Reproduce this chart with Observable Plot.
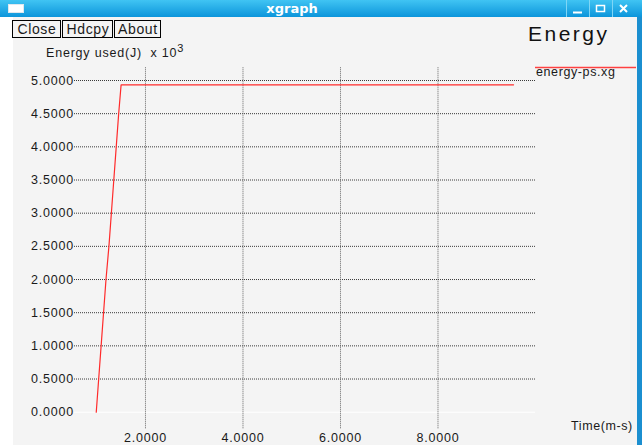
<!DOCTYPE html>
<html><head><meta charset="utf-8">
<script src="https://cdn.jsdelivr.net/npm/d3@7"></script>
<script src="https://cdn.jsdelivr.net/npm/@observablehq/plot@0.6"></script>
<style>
html,body{margin:0;padding:0;background:#fff;}
#win{position:relative;width:642px;height:445px;overflow:hidden;background:#fff;font-family:"Liberation Sans",Arial,sans-serif;}
#titlebar{position:absolute;left:0;top:0;width:642px;height:17px;background:linear-gradient(#40c4f3,#0c95db);}
#content{position:absolute;left:13px;top:17px;width:624px;height:428px;background:#f4f4f4;}
#rborder{position:absolute;left:637px;top:17px;width:5px;height:428px;background:#1b8fd0;}
#plot{position:absolute;left:0;top:0;}
#chrome{position:absolute;left:0;top:0;}
#chrome text{white-space:pre;}
</style>
</head><body>
<div id="win">
  <div id="titlebar"></div>
  <div id="content"></div>
  <div id="rborder"></div>
  <div id="plot"></div>
  <svg id="chrome" width="642" height="445" xmlns="http://www.w3.org/2000/svg"></svg>
</div>
<script>
// ---- data ----
const timeMs   = [0.99, 1.04, 1.09, 1.14, 1.19, 1.25, 1.30, 1.35, 1.40, 1.45, 1.50, 9.55];
const energyKJ = [0.00, 0.50, 1.00, 1.50, 2.00, 2.50, 3.00, 3.50, 4.00, 4.50, 4.935, 4.935];
const seriesName = "energy-ps.xg";
const yTickValues = [0, 0.5, 1.0, 1.5, 2.0, 2.5, 3.0, 3.5, 4.0, 4.5, 5.0];
const yTickLabels = ["0.0000","0.5000","1.0000","1.5000","2.0000","2.5000","3.0000","3.5000","4.0000","4.5000","5.0000"];
const xTickValues = [2, 4, 6, 8];
const xTickLabels = ["2.0000","4.0000","6.0000","8.0000"];
const chartTitle = "Energy";
const yLabel = "Energy used(J)  x 10";
const yLabelExp = "3";
const xLabel = "Time(m-s)";
const windowTitle = "xgraph";
const buttons = ["Close","Hdcpy","About"];

const data = timeMs.map((t, i) => ({time: t, energy: energyKJ[i]}));
const yFmt = d => yTickLabels[yTickValues.indexOf(d)];
const xFmt = d => xTickLabels[xTickValues.indexOf(d)];

const plot = Plot.plot({
  width: 642,
  height: 445,
  marginTop: 80,
  marginBottom: 33.3,
  marginLeft: 74,
  marginRight: 107,
  x: {domain: [0.544, 10.0]},
  y: {domain: [0, 5]},
  style: {background: "transparent", fontFamily: "'Liberation Sans', Arial, sans-serif", fontSize: "12.5px", letterSpacing: "0.8px", color: "#1a1a1a", overflow: "visible"},
  marks: [
    Plot.ruleY(yTickValues.filter(d => d !== 0), {stroke: "#3a3a3a", strokeDasharray: "1,1", strokeWidth: 1}),
    Plot.ruleY([0], {stroke: "#ffffff", strokeWidth: 1}),
    Plot.ruleX(xTickValues, {y1: -0.25, y2: 5.2, stroke: "#666", strokeDasharray: "1,1", strokeWidth: 1}),
    Plot.line(data, {x: "time", y: "energy", stroke: "#ff2b2b", strokeWidth: 1.2}),
    Plot.axisY({ticks: yTickValues, tickFormat: yFmt, tickSize: 0, tickPadding: 0.5, label: null}),
    Plot.axisX({ticks: xTickValues, tickFormat: xFmt, tickSize: 0, tickPadding: 21, label: null})
  ]
});
document.getElementById("plot").appendChild(plot);

// ---- window chrome, titles and legend ----
const svg = d3.select("#chrome");
const ff = "'Liberation Sans', Arial, sans-serif";
// title bar icon
svg.append("rect").attr("x", 8.5).attr("y", 4.5).attr("width", 15).attr("height", 8).attr("fill", "#fff").attr("stroke", "#dfe8ee");
svg.append("text").attr("x", 292).attr("y", 13).attr("text-anchor", "middle").attr("fill", "#fff")
  .attr("font-family", "'DejaVu Sans', sans-serif").attr("font-weight", "bold").attr("font-size", 13).text(windowTitle);
// window controls
[566, 589, 612].forEach(x => svg.append("line").attr("x1", x + 0.5).attr("x2", x + 0.5).attr("y1", 0).attr("y2", 17).attr("stroke", "#7fd6f6"));
svg.append("line").attr("x1", 573).attr("x2", 582).attr("y1", 12.5).attr("y2", 12.5).attr("stroke", "#fff").attr("stroke-width", 2);
svg.append("rect").attr("x", 596.5).attr("y", 5.5).attr("width", 8).attr("height", 6).attr("fill", "none").attr("stroke", "#fff").attr("stroke-width", 1.5);
svg.append("path").attr("d", "M620,5L627,12M627,5L620,12").attr("stroke", "#fff").attr("stroke-width", 2);
// buttons
const bx = [[12.5, 48], [62.5, 50], [114.5, 46]];
buttons.forEach((b, i) => {
  svg.append("rect").attr("x", bx[i][0]).attr("y", 20.5).attr("width", bx[i][1]).attr("height", 17).attr("fill", "#f4f4f4").attr("stroke", "#000");
  svg.append("text").attr("x", bx[i][0] + bx[i][1] / 2 + 0.4).attr("y", 33.5).attr("text-anchor", "middle")
    .attr("letter-spacing", "0.6px")
    .attr("font-family", ff).attr("font-size", 14).attr("fill", "#1a1a1a").text(b);
});
// chart title
svg.append("text").attr("x", 528).attr("y", 40.5).attr("font-family", ff).attr("font-size", 21)
  .attr("textLength", 79).attr("lengthAdjust", "spacing").attr("fill", "#111").text(chartTitle);
// y label
const yl = svg.append("text").attr("x", 46).attr("y", 56.5).attr("font-family", ff).attr("font-size", 12.5).attr("letter-spacing", "0.8px").attr("fill", "#1a1a1a");
yl.append("tspan").text(yLabel);
yl.append("tspan").attr("dy", -5).attr("font-size", 11).text(yLabelExp);
// x label
svg.append("text").attr("x", 571).attr("y", 430).attr("font-family", ff).attr("font-size", 12.5).attr("letter-spacing", "0.6px").attr("fill", "#1a1a1a").text(xLabel);
// legend
svg.append("line").attr("x1", 535).attr("x2", 636).attr("y1", 67.5).attr("y2", 67.5).attr("stroke", "#ff4040").attr("stroke-width", 1.3);
svg.append("text").attr("x", 536).attr("y", 75.5).attr("font-family", ff).attr("font-size", 12.5).attr("letter-spacing", "0.6px").attr("fill", "#1a1a1a").text(seriesName);
</script>
</body></html>
